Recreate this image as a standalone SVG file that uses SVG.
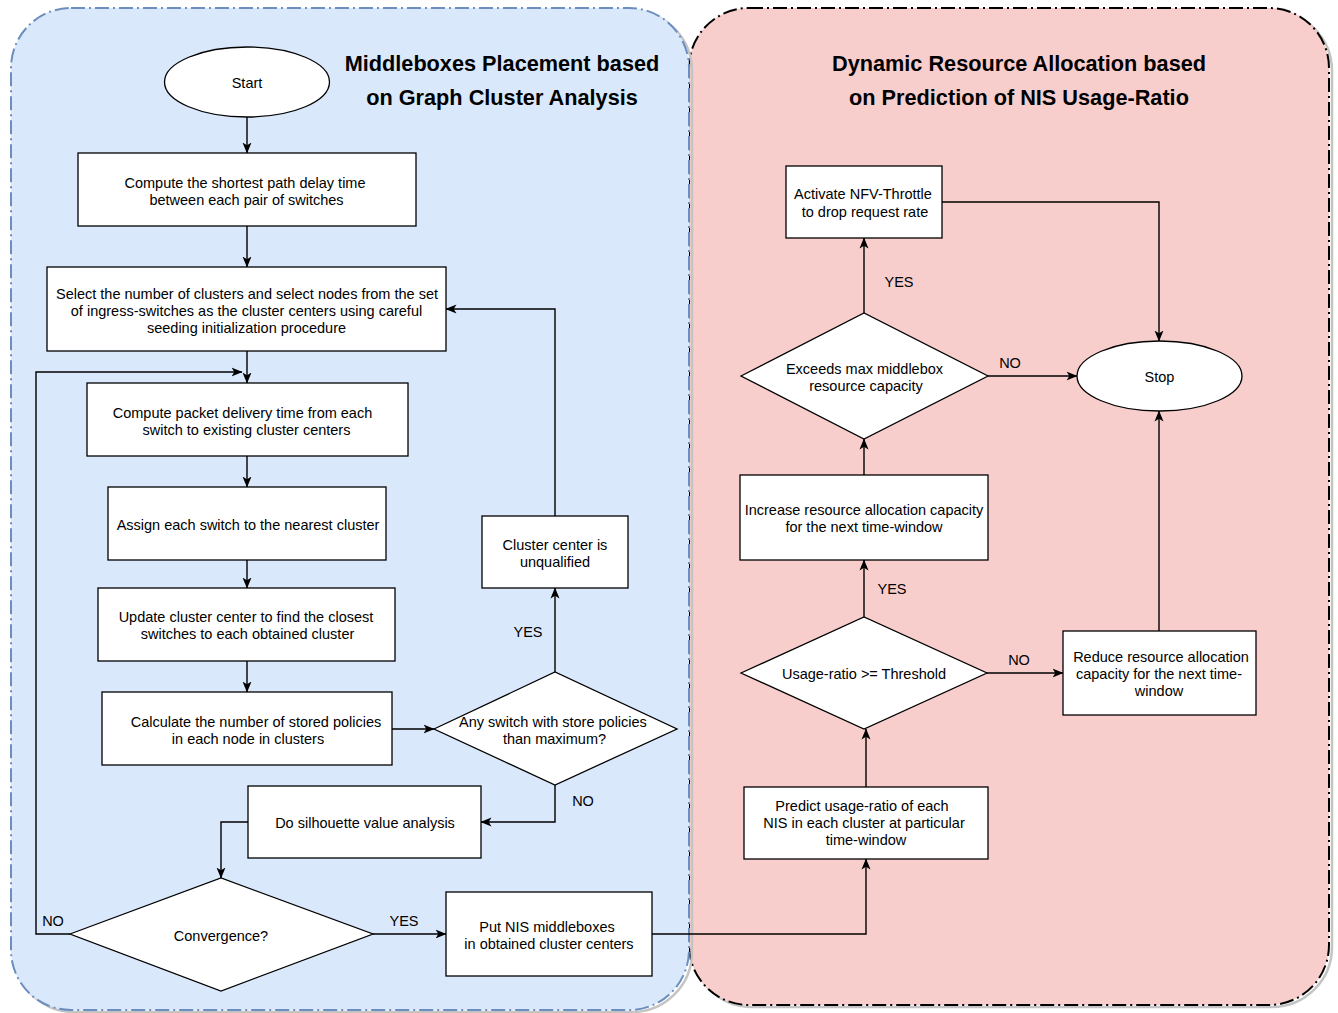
<svg xmlns="http://www.w3.org/2000/svg" width="1338" height="1013" viewBox="0 0 1338 1013">
<defs>
<style>
text{font-family:"Liberation Sans",Arial,sans-serif;font-size:14.5px;fill:#000;text-anchor:middle}
.title{font-weight:bold;font-size:21.7px}
.n{fill:#fff;stroke:#000;stroke-width:1.3}
.c{fill:none;stroke:#000;stroke-width:1.4}
.sh{fill:none;stroke:#c4c4c4;stroke-width:2.5}
</style>
<marker id="a" viewBox="0 0 11 10" refX="10.5" refY="5" markerWidth="11" markerHeight="10" markerUnits="userSpaceOnUse" orient="auto">
<path d="M0,0.5 L11,5 L0,9.5 L2.8,5 Z" fill="#000"/>
</marker>
</defs>
<g id="panels">
<rect class="sh" x="692" y="11" width="640" height="996" rx="60"/>
<rect x="689" y="8" width="640" height="997" rx="60" fill="#f8cecc" stroke="#000" stroke-width="2" stroke-dasharray="14 4 2 4"/>
<rect class="sh" x="14" y="11" width="678" height="1001" rx="60"/>
<rect x="11" y="8" width="678" height="1002" rx="60" fill="#dae8fc" stroke="#6c8ebf" stroke-width="2" stroke-dasharray="14 4 2 4"/>
</g>
<g id="titles">
<text class="title" x="502" y="71">Middleboxes Placement based</text>
<text class="title" x="502" y="105">on Graph Cluster Analysis</text>
<text class="title" x="1019" y="71">Dynamic Resource Allocation based</text>
<text class="title" x="1019" y="105">on Prediction of NIS Usage-Ratio</text>
</g>
<g id="connectors">
<path class="c" d="M247,117 V153" marker-end="url(#a)"/>
<path class="c" d="M247,226 V267" marker-end="url(#a)"/>
<path class="c" d="M247,351 V383" marker-end="url(#a)"/>
<path class="c" d="M247,456 V487" marker-end="url(#a)"/>
<path class="c" d="M247,560 V588" marker-end="url(#a)"/>
<path class="c" d="M247,661 V692" marker-end="url(#a)"/>
<path class="c" d="M392,729 H434" marker-end="url(#a)"/>
<path class="c" d="M555,672 V588" marker-end="url(#a)"/>
<path class="c" d="M555,516 V309 H446" marker-end="url(#a)"/>
<path class="c" d="M555,785 V822 H481" marker-end="url(#a)"/>
<path class="c" d="M248,822 H221 V878" marker-end="url(#a)"/>
<path class="c" d="M70,934 H36 V372 H242" marker-end="url(#a)"/>
<path class="c" d="M373,934 H446" marker-end="url(#a)"/>
<path class="c" d="M652,934 H866 V859" marker-end="url(#a)"/>
<path class="c" d="M866,787 V729" marker-end="url(#a)"/>
<path class="c" d="M864,617 V560" marker-end="url(#a)"/>
<path class="c" d="M987,673 H1063" marker-end="url(#a)"/>
<path class="c" d="M864,475 V439" marker-end="url(#a)"/>
<path class="c" d="M864,313 V238" marker-end="url(#a)"/>
<path class="c" d="M988,376 H1077" marker-end="url(#a)"/>
<path class="c" d="M942,202 H1159 V341" marker-end="url(#a)"/>
<path class="c" d="M1159,631 V411" marker-end="url(#a)"/>
<text x="583" y="806">NO</text>
<text x="528" y="637">YES</text>
<text x="53" y="926">NO</text>
<text x="404" y="926">YES</text>
<text x="899" y="287">YES</text>
<text x="1010" y="368">NO</text>
<text x="892" y="594">YES</text>
<text x="1019" y="665">NO</text>
</g>
<g id="start"><ellipse class="n" cx="247" cy="82" rx="82.5" ry="35"/><text x="247" y="88">Start</text></g>
<g id="shortest-path"><rect class="n" x="78" y="153" width="338" height="73"/><text x="245" y="188">Compute the shortest path delay time</text><text x="246.5" y="205">between each pair of switches</text></g>
<g id="select-clusters"><rect class="n" x="47" y="267" width="399" height="84"/><text x="247" y="299">Select the number of clusters and select nodes from the set</text><text x="246.5" y="316">of ingress-switches as the cluster centers using careful</text><text x="246.5" y="333">seeding initialization procedure</text></g>
<g id="packet-delivery"><rect class="n" x="87" y="383" width="321" height="73"/><text x="242.5" y="418">Compute packet delivery time from each</text><text x="246.5" y="435">switch to existing cluster centers</text></g>
<g id="assign"><rect class="n" x="108" y="487" width="278" height="73"/><text x="248" y="530">Assign each switch to the nearest cluster</text></g>
<g id="update-center"><rect class="n" x="98" y="588" width="297" height="73"/><text x="246" y="622">Update cluster center to find the closest</text><text x="247.5" y="639">switches to each obtained cluster</text></g>
<g id="calculate"><rect class="n" x="102" y="692" width="290" height="73"/><text x="256" y="727">Calculate the number of stored policies</text><text x="248" y="744">in each node in clusters</text></g>
<g id="any-switch"><path class="n" d="M434,729 L555,672 L677,729 L555,785 Z"/><text x="553" y="727">Any switch with store policies</text><text x="554.5" y="744">than maximum?</text></g>
<g id="unqualified"><rect class="n" x="482" y="516" width="146" height="72"/><text x="555" y="550">Cluster center is</text><text x="555" y="567">unqualified</text></g>
<g id="silhouette"><rect class="n" x="248" y="786" width="233" height="72"/><text x="365" y="828">Do silhouette value analysis</text></g>
<g id="convergence"><path class="n" d="M70,934 L221,878 L373,934 L221,991 Z"/><text x="221" y="941">Convergence?</text></g>
<g id="put-nis"><rect class="n" x="446" y="892" width="206" height="84"/><text x="547" y="932">Put NIS middleboxes</text><text x="549" y="949">in obtained cluster centers</text></g>
<g id="predict"><rect class="n" x="744" y="787" width="244" height="72"/><text x="862" y="811">Predict usage-ratio of each</text><text x="864" y="828">NIS in each cluster at particular</text><text x="866" y="845">time-window</text></g>
<g id="usage-ratio"><path class="n" d="M741,673 L864,617 L987,673 L864,729 Z"/><text x="864" y="679">Usage-ratio &gt;= Threshold</text></g>
<g id="reduce"><rect class="n" x="1063" y="631" width="193" height="84"/><text x="1161" y="662">Reduce resource allocation</text><text x="1159" y="679">capacity for the next time-</text><text x="1159" y="696">window</text></g>
<g id="increase"><rect class="n" x="740" y="475" width="248" height="85"/><text x="864" y="515">Increase resource allocation capacity</text><text x="864" y="532">for the next time-window</text></g>
<g id="exceeds"><path class="n" d="M741,376 L864,313 L988,376 L864,439 Z"/><text x="864.5" y="374">Exceeds max middlebox</text><text x="866" y="391">resource capacity</text></g>
<g id="activate"><rect class="n" x="786" y="166" width="156" height="72"/><text x="863" y="199">Activate NFV-Throttle</text><text x="865" y="217">to drop request rate</text></g>
<g id="stop"><ellipse class="n" cx="1159.5" cy="376" rx="82.5" ry="35"/><text x="1159.5" y="382">Stop</text></g>
</svg>
